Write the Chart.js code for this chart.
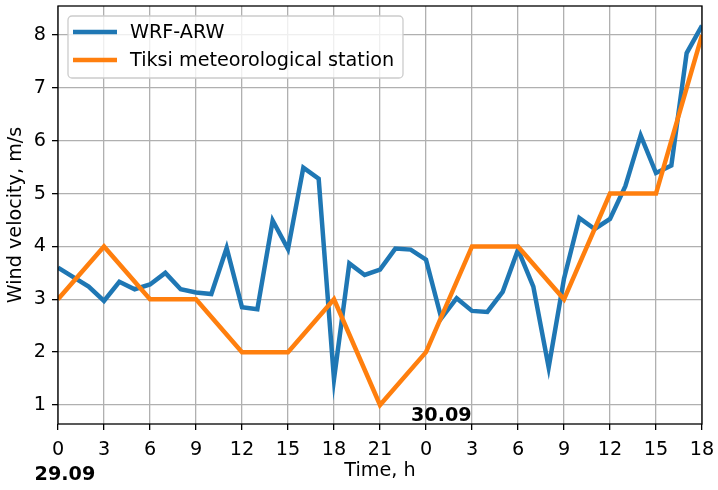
<!DOCTYPE html>
<html>
<head>
<meta charset="utf-8">
<script src="https://cdn.jsdelivr.net/npm/chart.js@4/dist/chart.umd.min.js"></script>
<style>
  body { margin: 0; background: #fff; }
  canvas { display: block; }
</style>
</head>
<body>
<canvas id="myChart" width="718" height="490"></canvas>
<script>
// hourly model output, 29.09 00h .. 30.09 18h
const wrfHours = [0,1,2,3,4,5,6,7,8,9,10,11,12,13,14,15,16,17,18,19,20,21,
                  22,23,24,25,26,27,28,29,30,31,32,33,34,35,36,37,38,39,40,41,42];
const wrfSpeed = [3.6,3.42,3.24,2.97,3.33,3.19,3.28,3.5,3.19,3.13,3.1,3.97,2.85,2.81,4.49,3.95,5.49,5.28,1.49,3.68,3.46,
                  3.56,3.96,3.94,3.75,2.64,3.02,2.78,2.76,3.14,3.94,3.24,1.71,3.39,4.54,4.33,4.52,5.14,6.1,5.39,5.53,7.66,8.18];

// station observations every 3 hours
const stationHours = [0,3,6,9,12,15,18,21,24,27,30,33,36,39,42];
const stationSpeed = [3,4,3,3,2,2,3,1,2,4,4,3,5,5,8];

const xTickLabels = ['0','3','6','9','12','15','18','21','0','3','6','9','12','15','18'];
const yTickValues = [1,2,3,4,5,6,7,8];

const seriesNames = ['WRF-ARW', 'Tiksi meteorological station'];
const dateLabels = ['29.09', '30.09'];

const FONT = '"DejaVu Sans", sans-serif';
const FS = 19.2;

function toPoints(xs, ys) {
    return xs.map((x, i) => ({x: x, y: ys[i]}));
}

// black frame around the axes, like matplotlib spines
const framePlugin = {
    id: 'frame',
    afterDatasetsDraw(chart) {
        const a = chart.chartArea, ctx = chart.ctx;
        ctx.save();
        ctx.strokeStyle = '#000';
        ctx.lineWidth = 1.3;
        ctx.strokeRect(a.left, a.top, a.right - a.left, a.bottom - a.top);
        ctx.restore();
    }
};

// legend inside the plot, upper left
const innerLegend = {
    id: 'innerLegend',
    afterDraw(chart) {
        const a = chart.chartArea, ctx = chart.ctx;
        const x0 = a.left + 10, y0 = a.top + 10, w = 335, h = 62, r = 4;
        ctx.save();
        ctx.fillStyle = 'rgba(255,255,255,0.8)';
        ctx.strokeStyle = '#cccccc';
        ctx.lineWidth = 1.3;
        ctx.beginPath();
        ctx.roundRect(x0, y0, w, h, r);
        ctx.fill();
        ctx.stroke();
        ctx.font = FS + 'px ' + FONT;
        ctx.textBaseline = 'middle';
        ctx.fillStyle = '#000';
        [0, 1].forEach(i => {
            const ds = chart.data.datasets.find(d => d.label === seriesNames[i]);
            const yy = y0 + 16 + i * 28;
            ctx.strokeStyle = ds.borderColor;
            ctx.lineWidth = 4.5;
            ctx.beginPath();
            ctx.moveTo(x0 + 5, yy);
            ctx.lineTo(x0 + 49, yy);
            ctx.stroke();
            ctx.fillText(ds.label, x0 + 62, yy + 1);
        });
        ctx.restore();
    }
};

// bold date labels
const datePlugin = {
    id: 'dates',
    afterDraw(chart) {
        const xs = chart.scales.x, ys = chart.scales.y, ctx = chart.ctx;
        ctx.save();
        ctx.font = 'bold ' + FS + 'px ' + FONT;
        ctx.fillStyle = '#000';
        ctx.textAlign = 'center';
        ctx.textBaseline = 'middle';
        ctx.fillText(dateLabels[0], xs.getPixelForValue(0.45), chart.chartArea.bottom + 51);
        ctx.fillText(dateLabels[1], xs.getPixelForValue(25), ys.getPixelForValue(0.8));
        ctx.restore();
    }
};

function chartIt(){
    const ctx = document.getElementById('myChart').getContext('2d');
    const chart = new Chart(ctx, {
        type: 'line',
        data: {
            datasets: [{
                label: seriesNames[0],
                data: toPoints(wrfHours, wrfSpeed),
                borderColor: '#1f77b4',
                borderWidth: 4.5,
                pointRadius: 0,
                tension: 0,
                clip: 0,
                order: 1
            }, {
                label: seriesNames[1],
                data: toPoints(stationHours, stationSpeed),
                borderColor: '#ff7f0e',
                borderWidth: 4.5,
                pointRadius: 0,
                tension: 0,
                clip: 0,
                order: 0
            }]
        },
        options: {
            responsive: false,
            animation: false,
            devicePixelRatio: 1,
            layout: { padding: { top: 6, right: 16, left: 0, bottom: 0 } },
            plugins: {
                legend: { display: false },
                tooltip: { enabled: false }
            },
            scales: {
                x: {
                    type: 'linear',
                    min: 0,
                    max: 42,
                    afterBuildTicks: s => { s.ticks = stationHours.map(v => ({value: v})); },
                    afterFit: s => { s.height = 66; s.paddingLeft = 0; s.paddingRight = 0; },
                    ticks: {
                        color: '#000',
                        font: { family: FONT, size: FS },
                        padding: 8,
                        maxRotation: 0,
                        autoSkip: false,
                        callback: (v, i) => xTickLabels[i]
                    },
                    grid: { color: '#b0b0b0', lineWidth: 1.3, tickColor: '#000', tickLength: 6, tickWidth: 1.3 },
                    border: { display: false },
                    title: {
                        display: true,
                        text: 'Time, h',
                        color: '#000',
                        font: { family: FONT, size: FS },
                        padding: { top: 0, bottom: 7 }
                    }
                },
                y: {
                    type: 'linear',
                    min: 0.64,
                    max: 8.55,
                    afterBuildTicks: s => { s.ticks = yTickValues.map(v => ({value: v})); },
                    afterFit: s => { s.width = 58; s.paddingTop = 0; s.paddingBottom = 0; },
                    ticks: {
                        color: '#000',
                        font: { family: FONT, size: FS },
                        padding: 6,
                        callback: v => String(v)
                    },
                    grid: { color: '#b0b0b0', lineWidth: 1.3, tickColor: '#000', tickLength: 6, tickWidth: 1.3 },
                    border: { display: false },
                    title: {
                        display: true,
                        text: 'Wind velocity, m/s',
                        color: '#000',
                        font: { family: FONT, size: FS },
                        padding: { top: 4, bottom: 0 }
                    }
                }
            }
        },
        plugins: [framePlugin, datePlugin, innerLegend]
    });
}
chartIt();
</script>
</body>
</html>
